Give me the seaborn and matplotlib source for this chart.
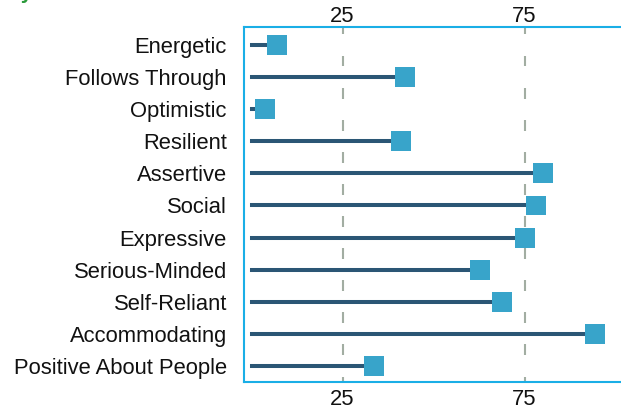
import numpy as np
import pandas as pd
import matplotlib
matplotlib.use('Agg')
import matplotlib.pyplot as plt
import seaborn as sns

traits = ['Energetic', 'Follows Through', 'Optimistic', 'Resilient', 'Assertive',
          'Social', 'Expressive', 'Serious-Minded', 'Self-Reliant', 'Accommodating',
          'Positive About People']
scores = [7.1, 42.2, 3.7, 41.1, 80.1, 78.2, 75.1, 62.8, 68.7, 94.4, 33.7]
tick_values = [25, 75]

df = pd.DataFrame({'trait': traits, 'score': scores})

sns.set_style('white')
plt.rcParams['font.family'] = ['Liberation Sans', 'DejaVu Sans']

fig = plt.figure(figsize=(6.21, 4.11), dpi=100)
ax = fig.add_axes([243.5 / 621, 1 - 382 / 411, (632 - 243.5) / 621, (382 - 27) / 411])

n = len(traits)
pos = np.arange(n)

# dashed guide lines, broken around each row
bounds = np.arange(n + 1) - 0.5
for t in tick_values:
    ax.vlines([t] * len(bounds), bounds - 0.17, bounds + 0.17,
              color='#a2ada2', linewidth=1.5, zorder=1)

stems = ax.hlines(pos, 0, df['score'], color='#2b5675', linewidth=2.9, zorder=2)
stems.set_capstyle('projecting')
sns.scatterplot(x=df['score'], y=pos, marker='s', s=205, color='#38a4ca',
                edgecolor='none', ax=ax, zorder=3, legend=False)

ax.set_xlim(-2.2, 104.5)
ax.set_ylim(10.5, -0.56)
ax.set_yticks(pos)
ax.set_yticklabels(traits, fontsize=15.8, color='#111111')
ax.set_xticks(tick_values)
ax.set_xticklabels([str(v) for v in tick_values], fontsize=15.8, color='#111111')
ax.tick_params(axis='y', length=0, pad=12)
ax.tick_params(axis='x', length=0, pad=5)
ax.set_xlabel('')
ax.set_ylabel('')

top = ax.secondary_xaxis('top')
top.set_xticks(tick_values)
top.set_xticklabels([str(v) for v in tick_values], fontsize=15.8, color='#111111')
top.tick_params(length=0, pad=0)
top.spines['top'].set_visible(False)

for side in ['left', 'top', 'bottom', 'right']:
    ax.spines[side].set_color('#1aaee6')
    ax.spines[side].set_linewidth(1.5)

# title mostly above the visible area
fig.text(-0.01, 1.0 + 1 / 411, 'Key Traits', color='#2a9a3a', fontsize=15,
         fontweight='bold', va='baseline', ha='left')

fig.savefig('out.png', dpi=100)
